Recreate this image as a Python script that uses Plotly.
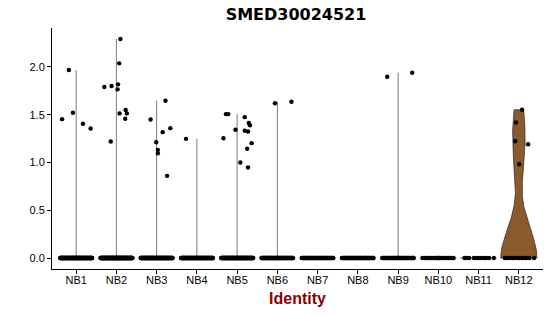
import numpy as np
import plotly.graph_objects as go

# ---- data ----
clusters = ["NB1", "NB2", "NB3", "NB4", "NB5", "NB6",
            "NB7", "NB8", "NB9", "NB10", "NB11", "NB12"]

expr_NB1 = [1.453, 1.967, 1.520, 1.405, 1.356]
expr_NB2 = [1.789, 1.800, 1.219, 1.817, 1.765, 2.037, 2.292, 1.513, 1.548, 1.513, 1.457]
expr_NB3 = [1.450, 1.212, 1.132, 1.097, 1.646, 1.317, 1.359, 0.860]
expr_NB4 = [1.247]
expr_NB5 = [1.254, 1.506, 1.506, 1.342, 0.999, 1.474, 1.331, 1.324, 1.412, 1.390, 1.143, 1.202, 0.947]
expr_NB6 = [1.620, 1.635]
expr_NB7 = []
expr_NB8 = []
expr_NB9 = [1.897, 1.939]
expr_NB10 = []
expr_NB11 = []
expr_NB12 = [1.551, 1.418, 1.222, 1.191, 0.981]

# number of cells with zero expression per cluster (estimated)
zero_counts = [120, 140, 110, 100, 110, 70, 50, 50, 40, 22, 11, 12]

# horizontal jitter of the non-zero points (category units)
jit_NB1 = [-0.35, -0.18, -0.08, 0.17, 0.36]
jit_NB2 = [-0.30, -0.12, -0.14, 0.04, 0.03, 0.07, 0.10, 0.08, 0.23, 0.26, 0.22]
jit_NB3 = [-0.15, -0.01, 0.03, 0.03, 0.22, 0.15, 0.34, 0.26]
jit_NB4 = [-0.27]
jit_NB5 = [-0.34, -0.28, -0.22, -0.04, 0.08, 0.19, 0.19, 0.27, 0.29, 0.32, 0.25, 0.36, 0.27]
jit_NB6 = [-0.06, 0.35]
jit_NB9 = [-0.27, 0.35]
jit_NB12 = [0.08, -0.07, -0.09, 0.23, 0.01]

expr = [expr_NB1, expr_NB2, expr_NB3, expr_NB4, expr_NB5, expr_NB6,
        expr_NB7, expr_NB8, expr_NB9, expr_NB10, expr_NB11, expr_NB12]
jits = [jit_NB1, jit_NB2, jit_NB3, jit_NB4, jit_NB5, jit_NB6,
        [], [], jit_NB9, [], [], jit_NB12]

violin_fill = "#8B5A2B"
HALF = 0.45   # half width of a violin (scale = "width")
JIT = 0.4     # jitter half width


def bw_nrd0(x):
    x = np.asarray(x, float)
    hi = x.std(ddof=1)
    q75, q25 = np.quantile(x, [0.75, 0.25])
    lo = min(hi, (q75 - q25) / 1.34)
    if not lo:
        lo = hi or abs(x[0]) or 1.0
    return 0.9 * lo * len(x) ** (-0.2)


fig = go.Figure()

for i, name in enumerate(clusters):
    vals = np.array([0.0] * zero_counts[i] + list(expr[i]))
    q75, q25 = np.quantile(vals, [0.75, 0.25])
    if q75 - q25 > 0:
        # proper kernel density violin
        bw = bw_nrd0(vals)
        grid = np.linspace(vals.min(), vals.max(), 512)
        dens = np.exp(-0.5 * ((grid[:, None] - vals[None, :]) / bw) ** 2).sum(axis=1)
        hw = HALF * dens / dens.max()
        xs = np.concatenate([i + hw, (i - hw)[::-1], [i + hw[0]]])
        ys = np.concatenate([grid, grid[::-1], [grid[0]]])
        fig.add_trace(go.Scatter(x=xs, y=ys, mode="lines", fill="toself",
                                 fillcolor=violin_fill,
                                 line=dict(color="#333333", width=0.8),
                                 hoverinfo="skip", showlegend=False))
    else:
        # degenerate violin: base line at zero plus a spike up to the max
        fig.add_trace(go.Scatter(x=[i - HALF, i + HALF], y=[0, 0], mode="lines",
                                 line=dict(color="#333333", width=0.8),
                                 hoverinfo="skip", showlegend=False))
        if vals.max() > 0:
            fig.add_trace(go.Scatter(x=[i, i], y=[0, vals.max()], mode="lines",
                                     line=dict(color="#7a7a7a", width=1),
                                     hoverinfo="skip", showlegend=False))

# points: zeros spread with a deterministic low-discrepancy jitter
golden = (np.sqrt(5) - 1) / 2
px, py = [], []
for i, name in enumerate(clusters):
    n0 = zero_counts[i]
    k = np.arange(n0)
    offs = ((k * golden + 0.5) % 1.0) * 2 * JIT - JIT
    px.extend(list(i + offs))
    py.extend([0.0] * n0)
    px.extend([i + j for j in jits[i]])
    py.extend(expr[i])

fig.add_trace(go.Scatter(x=px, y=py, mode="markers",
                         marker=dict(color="black", size=4.4, line=dict(width=0)),
                         hoverinfo="skip", showlegend=False))

ymax = max(max(e) for e in expr if e)
ypad = 0.05 * ymax

fig.update_layout(
    width=550, height=316,
    margin=dict(l=52, r=7, t=28, b=47),
    paper_bgcolor="white", plot_bgcolor="white",
    title=dict(text="<b>SMED30024521</b>", x=0.497, xref="paper", xanchor="center",
               y=1 - 14.5 / 316, yref="container", yanchor="middle",
               font=dict(family="DejaVu Sans", size=16, color="black")),
    xaxis=dict(range=[-0.6, len(clusters) - 0.4],
               tickmode="array", tickvals=list(range(len(clusters))), ticktext=clusters,
               showline=True, linecolor="black", linewidth=1,
               ticks="outside", ticklen=4, tickcolor="black", tickwidth=1,
               ticklabelstandoff=-3,
               showgrid=False, zeroline=False,
               tickfont=dict(family="Liberation Sans", size=11, color="black"),
               title=dict(text="<b>Identity</b>", standoff=7,
                          font=dict(family="Liberation Sans", size=16, color="#8B0000"))),
    yaxis=dict(range=[-ypad, ymax + ypad],
               tickmode="array", tickvals=[0, 0.5, 1.0, 1.5, 2.0], tickformat=".1f",
               showline=True, linecolor="black", linewidth=1,
               ticks="outside", ticklen=4, tickcolor="black", tickwidth=1,
               showgrid=False, zeroline=False,
               tickfont=dict(family="Liberation Sans", size=11, color="black")),
)

fig.write_html("out.html")
